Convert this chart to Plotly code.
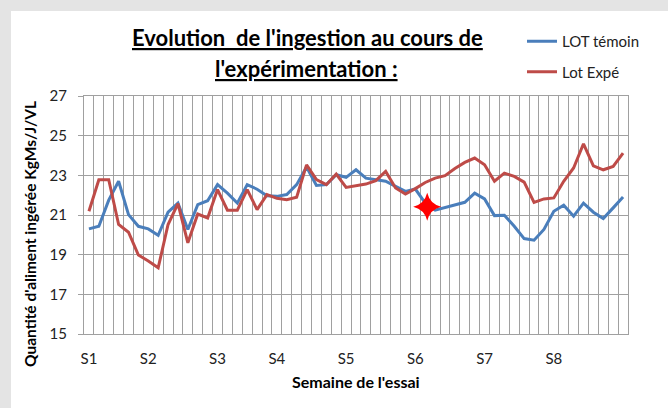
import plotly.graph_objects as go

# ---- data ----
day_index = list(range(55))
week_tick_pos = [0, 6, 13, 19, 26, 33, 40, 47]
week_labels = ["S1", "S2", "S3", "S4", "S5", "S6", "S7", "S8"]

lot_temoin = [20.30, 20.43, 21.75, 22.70, 21.02, 20.43, 20.30, 19.98, 21.14, 21.60,
              20.27, 21.52, 21.72, 22.53, 22.10, 21.60, 22.53, 22.30, 21.97, 21.94,
              22.03, 22.53, 23.42, 22.49, 22.53, 23.03, 22.90, 23.28, 22.86, 22.78,
              22.70, 22.44, 22.19, 22.31, 21.60, 21.24, 21.38, 21.50, 21.64, 22.10,
              21.81, 20.97, 20.99, 20.43, 19.81, 19.73, 20.27, 21.19, 21.49, 20.94,
              21.60, 21.14, 20.82, 21.36, 21.91]

lot_expe = [21.19, 22.78, 22.78, 20.52, 20.13, 18.98, 18.68, 18.34, 20.52, 21.57,
            19.60, 21.05, 20.85, 22.28, 21.24, 21.24, 22.28, 21.27, 22.03, 21.84,
            21.77, 21.90, 23.53, 22.78, 22.53, 23.06, 22.39, 22.48, 22.56, 22.73,
            23.20, 22.36, 22.06, 22.33, 22.64, 22.86, 22.98, 23.34, 23.65, 23.87,
            23.53, 22.70, 23.11, 22.95, 22.66, 21.64, 21.81, 21.86, 22.70, 23.37,
            24.59, 23.48, 23.28, 23.45, 24.12]

star_x = [34.2]
star_y = [21.42]

y_ticks = [15, 17, 19, 21, 23, 25, 27]

# ---- layout geometry (pixels) ----
W, H = 668, 408
ML, MR, MT, MB = 84, 40, 96, 74
PW, PH = W - ML - MR, H - MT - MB


def px(xp):
    return (xp - ML) / PW


def py(yp):
    return (H - MB - yp) / PH


FONT = "Lato"
GRID = "#a0a0a0"

fig = go.Figure()
fig.add_trace(go.Scatter(x=day_index, y=lot_temoin, mode="lines", name="LOT témoin",
                         line=dict(color="#4a7ebb", width=3), legendgroup="a"))
fig.add_trace(go.Scatter(x=day_index, y=lot_expe, mode="lines", name="Lot Expé",
                         line=dict(color="#be4b48", width=3), legendgroup="b"))
fig.add_trace(go.Scatter(x=star_x, y=star_y, mode="markers", showlegend=False,
                         marker=dict(symbol="star-diamond", size=20, color="#ff0000",
                                     line=dict(width=0))))

fig.update_layout(
    width=W, height=H, autosize=False,
    margin=dict(l=ML, r=MR, t=MT, b=MB, pad=0),
    paper_bgcolor="#e4e4e4", plot_bgcolor="white",
    font=dict(family=FONT, size=15, color="#222222"),
    showlegend=True,
    legend=dict(x=px(522), y=py(25), xanchor="left", yanchor="top",
                bgcolor="rgba(0,0,0,0)", font=dict(family=FONT, size=15, color="#222222"),
                traceorder="grouped", tracegroupgap=8, itemwidth=30),
    xaxis=dict(range=[-0.5, 54.5], tickmode="array", tickvals=week_tick_pos,
               ticktext=week_labels, showgrid=False, zeroline=False,
               ticks="", ticklabelstandoff=11,
               tickfont=dict(family=FONT, size=15, color="#222222"),
               showline=True, linecolor=GRID, linewidth=1, mirror=True,
               minor=dict(tickmode="linear", tick0=-0.5, dtick=1, showgrid=True,
                          gridcolor=GRID, gridwidth=1, ticks="")),
    yaxis=dict(range=[15, 27], tickmode="array", tickvals=y_ticks,
               showgrid=True, gridcolor=GRID, gridwidth=1, zeroline=False,
               ticks="outside", ticklen=5, tickcolor=GRID, ticklabelstandoff=8,
               tickfont=dict(family=FONT, size=15, color="#222222"),
               showline=True, linecolor=GRID, linewidth=1, mirror=True),
    shapes=[dict(type="rect", xref="paper", yref="paper", layer="below",
                 x0=px(11), x1=px(W + 20), y0=py(H + 20), y1=py(11),
                 fillcolor="white", line=dict(width=0))],
    annotations=[
        dict(text="<b><u>Evolution  de l'ingestion au cours de</u></b>", xref="paper", yref="paper",
             x=px(307), y=py(38), xanchor="center", yanchor="middle", showarrow=False,
             font=dict(family=FONT, size=22, color="#000000")),
        dict(text="<b><u>l'expérimentation :</u></b>", xref="paper", yref="paper",
             x=px(306), y=py(68), xanchor="center", yanchor="middle", showarrow=False,
             font=dict(family=FONT, size=22, color="#000000")),
        dict(text="<b>Quantité d'aliment ingérée KgMs/J/VL</b>", xref="paper", yref="paper",
             x=px(30), y=py(234), xanchor="center", yanchor="middle", showarrow=False,
             textangle=-90, font=dict(family=FONT, size=15.5, color="#000000")),
        dict(text="<b>Semaine de l'essai</b>", xref="paper", yref="paper",
             x=px(356), y=py(381), xanchor="center", yanchor="middle", showarrow=False,
             font=dict(family=FONT, size=16, color="#000000")),
    ],
)

fig.write_html("out.html", config={"displayModeBar": False},
               post_script="document.body.style.margin='0';document.body.style.background='#e4e4e4';")
